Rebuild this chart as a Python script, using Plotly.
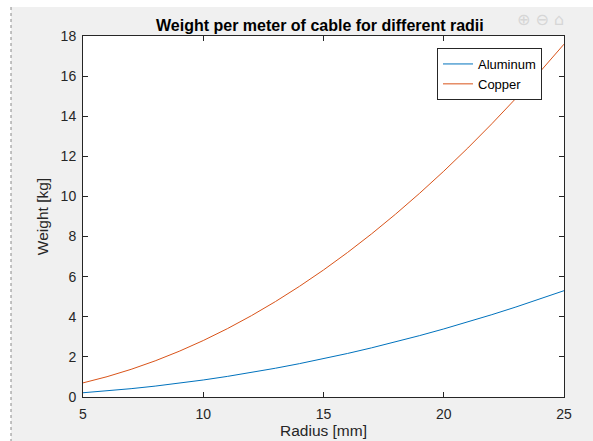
import plotly.graph_objects as go

radius_mm = [5, 6, 7, 8, 9, 10, 11, 12, 13, 14, 15, 16, 17, 18, 19, 20, 21, 22, 23, 24, 25]
aluminum_kg = [0.212, 0.305, 0.416, 0.543, 0.687, 0.848, 1.026, 1.221, 1.434, 1.663, 1.909,
               2.171, 2.451, 2.748, 3.062, 3.393, 3.741, 4.105, 4.487, 4.886, 5.301]
copper_kg = [0.704, 1.013, 1.379, 1.802, 2.280, 2.815, 3.406, 4.053, 4.757, 5.517, 6.333,
             7.206, 8.135, 9.120, 10.162, 11.259, 12.414, 13.624, 14.891, 16.214, 17.593]
series_names = ["Aluminum", "Copper"]
title_text = "Weight per meter of cable for different radii"
x_title = "Radius [mm]"
y_title = "Weight [kg]"

FONT = "Liberation Sans, Arial, Helvetica, sans-serif"
AX = "#262626"

fig = go.Figure()
fig.add_trace(go.Scatter(x=radius_mm, y=aluminum_kg, mode="lines", name=series_names[0],
                         line=dict(color="#0072BD", width=1)))
fig.add_trace(go.Scatter(x=radius_mm, y=copper_kg, mode="lines", name=series_names[1],
                         line=dict(color="#D95319", width=1)))

L, R, T, B = 83, 564, 36, 397
W, H = 593, 441
pw, ph = R - L, B - T

def px(x):
    return (x - L) / pw

def py(y):
    return (B - y) / ph

axis_common = dict(showline=True, linecolor=AX, linewidth=1, mirror="ticks",
                   ticks="inside", ticklen=5, tickcolor=AX, tickwidth=1,
                   showgrid=False, zeroline=False,
                   tickfont=dict(family=FONT, size=14, color=AX))

fig.update_layout(
    width=W, height=H,
    margin=dict(l=L, r=W - R, t=T, b=H - B, autoexpand=False),
    paper_bgcolor="#f0f0f0",
    plot_bgcolor="white",
    showlegend=True,
    legend=dict(x=px(437), y=py(48), xanchor="left", yanchor="top",
                bgcolor="white", bordercolor=AX, borderwidth=1,
                font=dict(family=FONT, size=13, color="#000000"),
                tracegroupgap=0, itemwidth=30),
    xaxis=dict(range=[5, 25], dtick=5, tick0=5, ticklabelstandoff=4,
               title=dict(text=x_title, standoff=4, font=dict(family=FONT, size=15.5, color=AX)),
               **axis_common),
    yaxis=dict(range=[0, 18], dtick=2, tick0=0, ticklabelstandoff=3,
               title=dict(text=y_title, standoff=8, font=dict(family=FONT, size=15.5, color=AX)),
               **axis_common),
    shapes=[
        dict(type="rect", xref="paper", yref="paper", x0=px(-5), x1=px(11), y0=py(H + 5), y1=py(-5),
             fillcolor="white", line=dict(width=0), layer="below"),
        dict(type="rect", xref="paper", yref="paper", x0=px(-5), x1=px(W + 5), y0=py(7), y1=py(-5),
             fillcolor="white", line=dict(width=0), layer="below"),
        dict(type="line", xref="paper", yref="paper", x0=px(11), x1=px(11), y0=py(7), y1=py(H + 2),
             line=dict(color="#8a8a8a", width=1, dash="dot")),
    ],
    annotations=[
        dict(text="<b>" + title_text + "</b>", xref="paper", yref="paper", x=px(320), y=py(25),
             xanchor="center", yanchor="middle", showarrow=False,
             font=dict(family=FONT, size=16, color="#000000")),
        dict(text="⊕ ⊖ ⌂", xref="paper", yref="paper", x=px(540), y=py(19),
             xanchor="center", yanchor="middle", showarrow=False,
             font=dict(family="DejaVu Sans", size=16, color="#d6d6d6")),
    ],
)

fig.write_html("out.html")
